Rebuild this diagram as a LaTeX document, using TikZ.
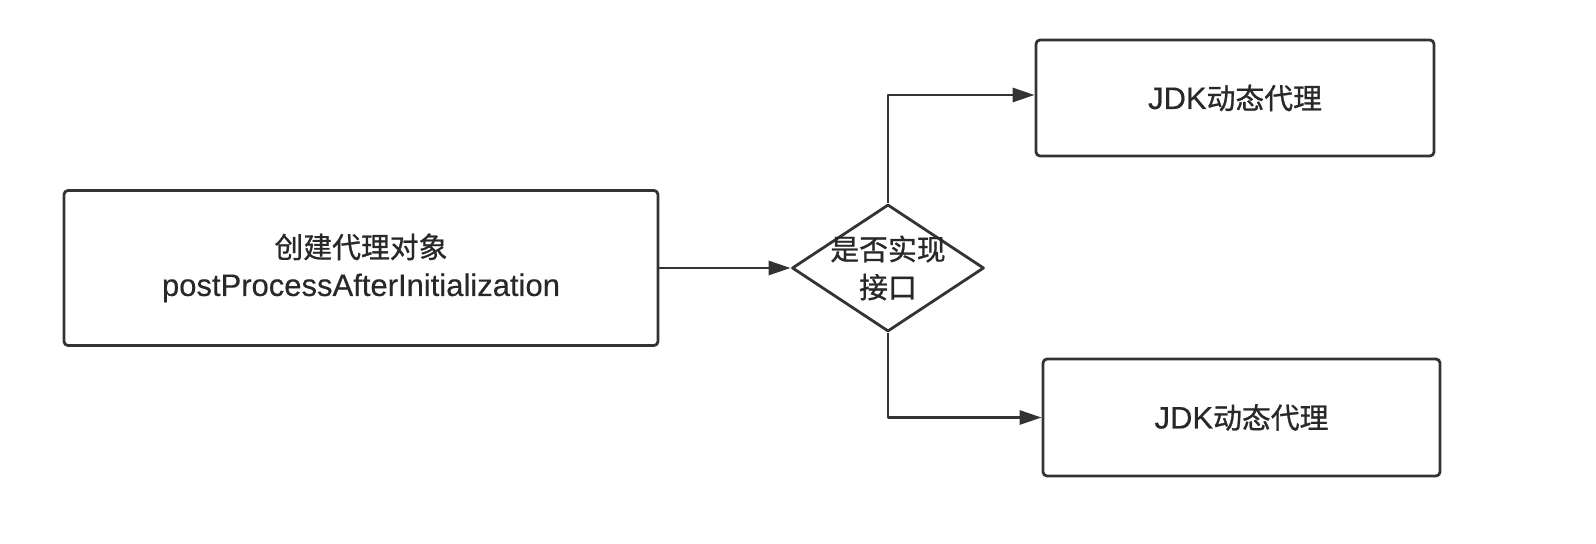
\documentclass[tikz,border=0pt]{standalone}
\usepackage{fontspec}
\setmainfont{Liberation Sans}[FakeBold=0.4]
\newfontfamily\cjk[Scale=0.93, FakeBold=0.9]{Noto Sans CJK SC}
\usetikzlibrary{shapes.geometric, arrows.meta}

\tikzset{
  flowbox/.style={draw=cLine, line width=1.4pt, rounded corners=2pt,
    inner sep=0pt, align=center, text=cText},
  decision/.style={diamond, draw=cLine, line width=1.4pt, inner sep=0pt,
    minimum width=96pt, minimum height=63.5pt},
  flowarrow/.style={draw=cLine, line width=1.4pt,
    -{Triangle[length=11pt, width=7pt]}},
}

\begin{document}
\begin{tikzpicture}[x=0.5pt, y=-0.5pt, line join=round,
    font=\fontsize{15.5pt}{19pt}\selectfont]
  \definecolor{cLine}{RGB}{51, 51, 51}
  \definecolor{cText}{RGB}{40, 40, 40}

  \useasboundingbox (0, 0) rectangle (1596, 544);

  \node[flowbox, minimum width=297pt, minimum height=77.5pt] (create) at (361, 268)
    {{\cjk 创建代理对象}\\postProcessAfterInitialization};
  \node[decision] (check) at (888, 268) {};
  \node[align=center, text=cText, inner sep=0pt] (checktext) at (check.center)
    {\cjk 是否实现\\\cjk 接口};
  \node[flowbox, minimum width=199pt, minimum height=58pt] (jdkA) at (1235, 98)
    {JDK{\cjk 动态代理}};
  \node[flowbox, minimum width=198.5pt, minimum height=58.5pt] (jdkB) at (1241.5, 417.5)
    {JDK{\cjk 动态代理}};

  \draw[flowarrow] (create.east) -- (check.west);
  \draw[flowarrow] (check.north) |- ([yshift=1.5pt]jdkA.west);
  \draw[flowarrow] (check.south) |- (jdkB.west);
\end{tikzpicture}
\end{document}
